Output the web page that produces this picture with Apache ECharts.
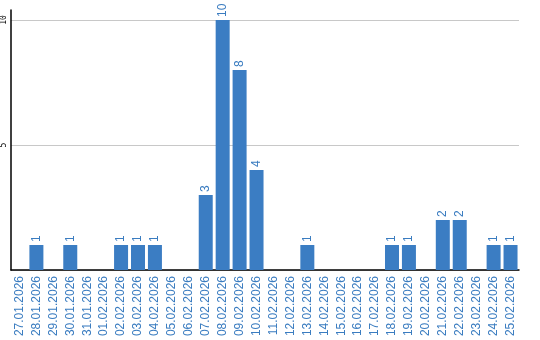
<!DOCTYPE html>
<html><head><meta charset="utf-8">
<script src="https://cdn.jsdelivr.net/npm/echarts@6/dist/echarts.min.js"></script>
<style>html,body{margin:0;padding:0;background:#fff}#c{width:540px;height:340px}</style>
</head><body><div id="c"></div>
<script>
const categories = ['27.01.2026','28.01.2026','29.01.2026','30.01.2026','31.01.2026','01.02.2026','02.02.2026','03.02.2026','04.02.2026','05.02.2026','06.02.2026','07.02.2026','08.02.2026','09.02.2026','10.02.2026','11.02.2026','12.02.2026','13.02.2026','14.02.2026','15.02.2026','16.02.2026','17.02.2026','18.02.2026','19.02.2026','20.02.2026','21.02.2026','22.02.2026','23.02.2026','24.02.2026','25.02.2026'];
const counts = [0,1,0,1,0,0,1,1,1,0,0,3,10,8,4,0,0,1,0,0,0,0,1,1,0,2,2,0,1,1];
const yTicks = [0,5,10];

const chart = echarts.init(document.getElementById('c'), null, {renderer:'canvas'});
chart.setOption({
  animation:false,
  grid:{left:9, right:21, top:10, bottom:70, containLabel:false},
  xAxis:{
    type:'category', data:categories, boundaryGap:true,
    axisLine:{lineStyle:{color:'#000', width:1.5}},
    axisTick:{show:false},
    axisLabel:{rotate:90, interval:0, color:'#3a7cc0', fontFamily:'Liberation Sans, Arial', fontSize:12, margin:6}
  },
  yAxis:{
    type:'value', min:0, max:10.4, interval:5,
    axisLine:{show:true, lineStyle:{color:'#000', width:1.5}},
    axisTick:{show:false},
    splitLine:{show:true, lineStyle:{color:['#c8c8c8','#c8c8c8','#c8c8c8','rgba(0,0,0,0)'], width:1}},
    axisLabel:{rotate:90, margin:3, color:'#000', fontFamily:'DejaVu Sans Mono', fontSize:8,
      formatter:v=> yTicks.indexOf(v)>=0 && v!==0 ? String(v) : ''}
  },
  series:[{
    type:'bar', data:counts.map(v=> v===0 ? null : v), barWidth:14,
    itemStyle:{color:'#3b7dc3'},
    label:{show:true, position:'top', rotate:90, align:'left', verticalAlign:'middle', distance:3,
      color:'#3a7cc0', fontFamily:'Liberation Sans, Arial', fontSize:12}
  }]
});
</script></body></html>
